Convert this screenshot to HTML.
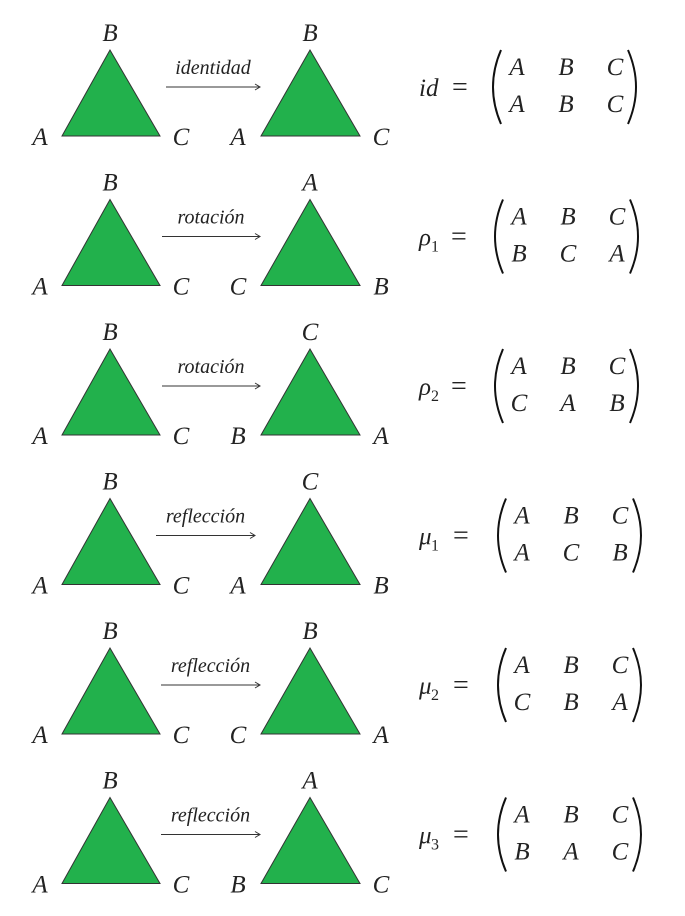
<!DOCTYPE html>
<html><head><meta charset="utf-8"><style>
html,body{margin:0;padding:0;background:#fff;}
svg{display:block;}
text{font-family:"Liberation Serif","DejaVu Serif",serif;font-style:italic;fill:#222;}
</style></head><body>
<svg id="fig" width="685" height="916" viewBox="0 0 685 916" xmlns="http://www.w3.org/2000/svg"></svg>
<script>
const leftLabels = [["B","A","C"],["B","A","C"],["B","A","C"],["B","A","C"],["B","A","C"],["B","A","C"]];
const rightLabels = [["B","A","C"],["A","C","B"],["C","B","A"],["C","A","B"],["B","C","A"],["A","B","C"]];
const opNames = ["identidad","rotación","rotación","reflección","reflección","reflección"];
const permNames = [["id",""],["ρ","1"],["ρ","2"],["μ","1"],["μ","2"],["μ","3"]];
const bottomRows = [["A","B","C"],["B","C","A"],["C","A","B"],["A","C","B"],["C","B","A"],["B","A","C"]];
const arrowStart = [166,162,162,156,161,161];
const arrowEnd = [260,260,260,255,260,260];

const svg = document.getElementById('fig');
const NS = 'http://www.w3.org/2000/svg';
function mk(tag, attrs, txt){
  const e = document.createElementNS(NS, tag);
  for (const k in attrs) e.setAttribute(k, attrs[k]);
  if (txt !== undefined) e.textContent = txt;
  svg.appendChild(e);
  return e;
}
const rowY = i => 136 + i * 149.5;

for (let i = 0; i < 6; i++) {
  const yb = rowY(i);
  const t1 = mk('polygon', {points:`110,${yb-86} 62,${yb} 160,${yb}`, fill:'#22b14c', stroke:'#333', 'stroke-width':1});
  
  
  const t2 = mk('polygon', {points:`310,${yb-86} 261,${yb} 360,${yb}`, fill:'#22b14c', stroke:'#333', 'stroke-width':1});
  
  
  const L = leftLabels[i], R = rightLabels[i];
  const lbls = [[110,yb-95,L[0]],[40,yb+9,L[1]],[181,yb+9,L[2]],[310,yb-95,R[0]],[238,yb+9,R[1]],[381,yb+9,R[2]]];
  lbls.forEach((p,j) => {
    const t = mk('text', {x:p[0], y:p[1], 'font-size':25, 'text-anchor':'middle'}, p[2]);
    
    
  });
  const ay = yb - 49;
  const a = mk('line', {x1:arrowStart[i], y1:ay, x2:arrowEnd[i], y2:ay, stroke:'#333', 'stroke-width':1});
  
  
  mk('path', {d:`M${arrowEnd[i]-5},${ay-3} L${arrowEnd[i]},${ay} L${arrowEnd[i]-5},${ay+3}`, fill:'none', stroke:'#333', 'stroke-width':1});
  const ol = mk('text', {x:(arrowStart[i]+arrowEnd[i])/2, y:ay-13, 'font-size':20, 'text-anchor':'middle'}, opNames[i]);
  
  
  const my = yb - 49;
  const shift = i === 0 ? 0 : (i < 3 ? 2 : 5);
  const pn = mk('text', {x:419, y:my+9, 'font-size':25}, permNames[i][0]);
  
  
  let eqx = 452;
  if (permNames[i][1]) {
    mk('text', {x:431, y:my+15, 'font-size':16, style:'font-style:normal'}, permNames[i][1]);
    eqx = 451 + (i>=3?2:0);
  }
  const eq = mk('text', {x:eqx, y:my+9, 'font-size':28, style:'font-style:normal'}, '=');
  
  
  const pl = 488 + shift, pr = 641 + shift;
  mk('path', {d:`M${pl+13},${my-37} Q${pl-3},${my} ${pl+13},${my+37}`, fill:'none', stroke:'#111', 'stroke-width':2});
  mk('path', {d:`M${pr-13},${my-37} Q${pr+3},${my} ${pr-13},${my+37}`, fill:'none', stroke:'#111', 'stroke-width':2});
  const cols = [517+shift, 566+shift, 615+shift];
  const top = ["A","B","C"];
  for (let c = 0; c < 3; c++) {
    const t = mk('text', {x:cols[c], y:my-12, 'font-size':25, 'text-anchor':'middle'}, top[c]);
    
    
    const b = mk('text', {x:cols[c], y:my+25, 'font-size':25, 'text-anchor':'middle'}, bottomRows[i][c]);
    
    
  }
}
</script>
</body></html>
